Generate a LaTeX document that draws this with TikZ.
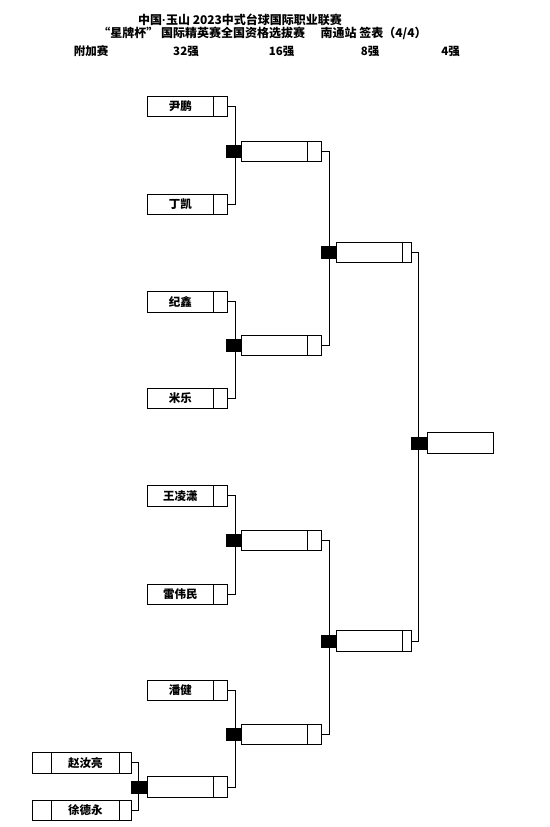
\documentclass[tikz,border=0pt]{standalone}
\usepackage{fontspec}
\newfontfamily\cjk{Noto Sans CJK SC}
\newfontfamily\latin{Liberation Sans}
\usetikzlibrary{positioning}

\begin{document}
\begin{tikzpicture}[x=1pt, y=-1pt,
  namecell/.style={draw, line width=0.8pt, outer sep=0pt, inner sep=0pt, minimum width=66pt, minimum height=20.5pt, anchor=west, font=\cjk\bfseries\fontsize{11.5}{12}\selectfont},
  scorecell/.style={draw, line width=0.8pt, outer sep=0pt, inner sep=0pt, minimum width=14pt, minimum height=20.5pt},
  seedmark/.style={fill=black, outer sep=0pt, inner sep=0pt, minimum width=16pt, minimum height=13pt},
  link/.style={line width=0.8pt},
  headline/.style={font=\cjk\bfseries\fontsize{12}{14}\selectfont, inner sep=0pt},
  roundlabel/.style={font=\cjk\bfseries\fontsize{11.5}{14}\selectfont, inner sep=0pt}]
  \useasboundingbox (0,0) rectangle (549,827);

  % title and round labels
  \node[headline] (title) at (240,20) {中国{\latin\bfseries ·}玉山 2023中式台球国际职业联赛};
  \node[headline] (subtitle) at (262.5,33) {“星牌杯”\ 国际精英赛全国资格选拔赛\hspace{1.3em}南通站\ 签表（4/4）};
  \node[roundlabel] (lx) at (91,51.5) {附加赛};
  \node[roundlabel] (l32) at (186,51.5) {32强};
  \node[roundlabel] (l16) at (281.5,51.5) {16强};
  \node[roundlabel] (l8) at (370,51.5) {8强};
  \node[roundlabel] (l4) at (450.5,51.5) {4强};

  % extra round
  \node[scorecell, minimum width=19.5pt, anchor=west] (e1n) at (32.3,762.8) {};
  \node[namecell, minimum width=67.3pt, right=0pt of e1n] (e1) {赵汝亮};
  \node[scorecell, minimum width=12.7pt, right=0pt of e1] (e1s) {};
  \node[scorecell, minimum width=19.5pt, anchor=west] (e2n) at (32.3,810.5) {};
  \node[namecell, minimum width=67.3pt, right=0pt of e2n] (e2) {徐德永};
  \node[scorecell, minimum width=12.7pt, right=0pt of e2] (e2s) {};

  % last 32
  \node[namecell] (p1) at (147.3,106.5) {尹鹏};
  \node[scorecell, right=0pt of p1] (p1s) {};
  \node[namecell] (p2) at (147.3,204.5) {丁凯};
  \node[scorecell, right=0pt of p2] (p2s) {};
  \node[namecell] (p3) at (147.3,301.7) {纪鑫};
  \node[scorecell, right=0pt of p3] (p3s) {};
  \node[namecell] (p4) at (147.3,398.2) {米乐};
  \node[scorecell, right=0pt of p4] (p4s) {};
  \node[namecell] (p5) at (147.3,495.8) {王凌潇};
  \node[scorecell, right=0pt of p5] (p5s) {};
  \node[namecell] (p6) at (147.3,594.3) {雷伟民};
  \node[scorecell, right=0pt of p6] (p6s) {};
  \node[namecell] (p7) at (147.3,690.3) {潘健};
  \node[scorecell, right=0pt of p7] (p7s) {};
  \node[namecell] (p8) at (147.3,787) {};
  \node[scorecell, right=0pt of p8] (p8s) {};
  \node[seedmark, left=0pt of p8] (k0) {};

  % last 16
  \node[namecell] (q1) at (241.7,151.3) {};
  \node[scorecell, right=0pt of q1] (q1s) {};
  \node[namecell] (q2) at (241.7,345.5) {};
  \node[scorecell, right=0pt of q2] (q2s) {};
  \node[namecell] (q3) at (241.7,540.2) {};
  \node[scorecell, right=0pt of q3] (q3s) {};
  \node[namecell] (q4) at (241.7,734.5) {};
  \node[scorecell, right=0pt of q4] (q4s) {};
  \node[seedmark, left=0pt of q1] (k1) {};
  \node[seedmark, left=0pt of q2] (k2) {};
  \node[seedmark, left=0pt of q3] (k3) {};
  \node[seedmark, left=0pt of q4] (k4) {};

  % last 8
  \node[namecell] (h1) at (336.7,252.3) {};
  \node[scorecell, minimum width=8.5pt, right=0pt of h1] (h1s) {};
  \node[namecell] (h2) at (336.7,641) {};
  \node[scorecell, minimum width=8.5pt, right=0pt of h2] (h2s) {};
  \node[seedmark, left=0pt of h1] (k5) {};
  \node[seedmark, left=0pt of h2] (k6) {};

  % last 4
  \node[namecell] (f1) at (427.3,443) {};
  \node[seedmark, left=0pt of f1] (k7) {};

  % bracket lines
  \draw[link] (e1s.east) -- ++(7,0) |- (e2s.east);
  \draw[link] (p1s.east) -- ++(8,0) |- (p2s.east);
  \draw[link] (p3s.east) -- ++(8,0) |- (p4s.east);
  \draw[link] (p5s.east) -- ++(8,0) |- (p6s.east);
  \draw[link] (p7s.east) -- ++(8,0) |- (p8s.east);
  \draw[link] (q1s.east) -- ++(7.5,0) |- (q2s.east);
  \draw[link] (q3s.east) -- ++(7.5,0) |- (q4s.east);
  \draw[link] (h1s.east) -- ++(7.5,0) |- (h2s.east);

\end{tikzpicture}
\end{document}
